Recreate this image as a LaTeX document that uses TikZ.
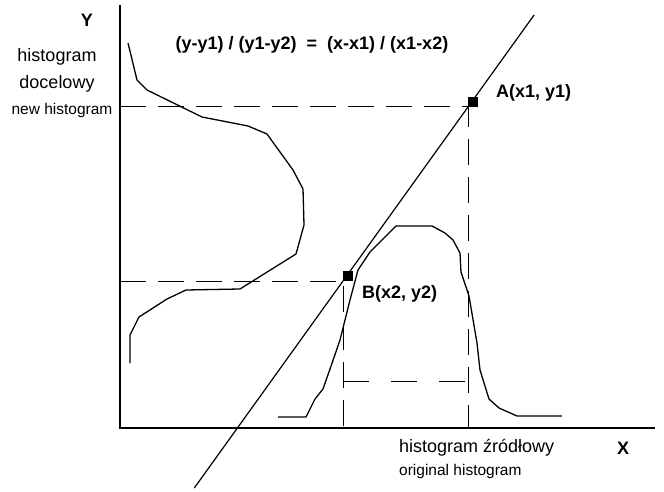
\documentclass[tikz,border=0pt]{standalone}
\usepackage{fontspec}
\setmainfont{Liberation Sans}
\usetikzlibrary{calc}

\tikzset{
  axis/.style={line width=2.8pt},
  curve/.style={line width=1.3pt, line join=round},
  guide/.style={line width=1pt, dash pattern=on 26pt off 12pt},
  marker/.style={fill, inner sep=0pt, minimum size=10pt, anchor=south west},
  big/.style={inner sep=0pt, font=\fontsize{18}{20}\selectfont},
  small/.style={inner sep=0pt, font=\fontsize{15.5}{18}\selectfont},
  bold/.style={inner sep=0pt, font=\fontsize{18}{20}\selectfont\bfseries},
}

\begin{document}
\begin{tikzpicture}[x=1pt, y=-1pt]
    \useasboundingbox (0,0) rectangle (664,492);

    % Axes
    \coordinate (O) at (120,428);
    \coordinate (Ytop) at (120,5);
    \coordinate (Xend) at (655,428);
    \draw[axis] (Ytop) -- (O) -- (Xend);

    % Mapping line through A and B
    \coordinate (A) at (468,107);
    \coordinate (B) at (343,281);
    \coordinate (top) at ($(A)!-0.529!(B)$);
    \coordinate (bot) at ($(A)!2.19!(B)$);
    \draw[line width=1.2pt] (bot) -- (top);

    % Guides
    \draw[guide] (A -| O) -- (A) -- (A |- O);
    \draw[guide] (B -| O) -- (B) -- (B |- O);
    \coordinate (lvlL) at (343,381);
    \coordinate (lvlR) at (466,381);
    \draw[guide, dash pattern=on 26pt off 22pt] (lvlL) -- (lvlR);

    % Target histogram
    \draw[curve] (128,43) -- (137,80) -- (147,90) -- (202,117) -- (248,126)
        -- (267,134) -- (293,170) -- (303,189) -- (304,225) -- (296,254)
        -- (240,289) -- (186,290) -- (167,299) -- (139,317) -- (130,335)
        -- (130,363);

    % Source histogram
    \draw[curve] (278,417) -- (306,417) -- (315,399) -- (323,389) -- (330,369)
        -- (340,340) -- (350,300) -- (358,270) -- (370,252) -- (396,226)
        -- (432,226) -- (445,233) -- (453,240) -- (460,253) -- (461,272)
        -- (469,296) -- (477,343) -- (480,370) -- (489,399) -- (499,408)
        -- (517,416) -- (562,416);

    % Points
    \node[marker] (mA) at (A) {};
    \node[marker] (mB) at (B) {};
    \node[bold, anchor=west] (labA) at (496,93) {A(x1, y1)};
    \node[bold, anchor=west] (labB) at (362,294) {B(x2, y2)};

    % Formula
    \node[bold] (eq) at (312,45) {(y-y1) / (y1-y2)~~=~~(x-x1) / (x1-x2)};

    % Axis labels
    \node[bold] (ylab) at (87,20) {Y};
    \node[big] (tgt1) at (57,57) {histogram};
    \node[big] (tgt2) at (57,84) {docelowy};
    \node[small] (tgt3) at (62,110) {new histogram};
    \node[bold] (xlab) at (623,448) {X};
    \node[big, anchor=west] (src1) at (399,448) {histogram źródłowy};
    \node[small, anchor=west] (src2) at (399,471) {original histogram};
\end{tikzpicture}
\end{document}
